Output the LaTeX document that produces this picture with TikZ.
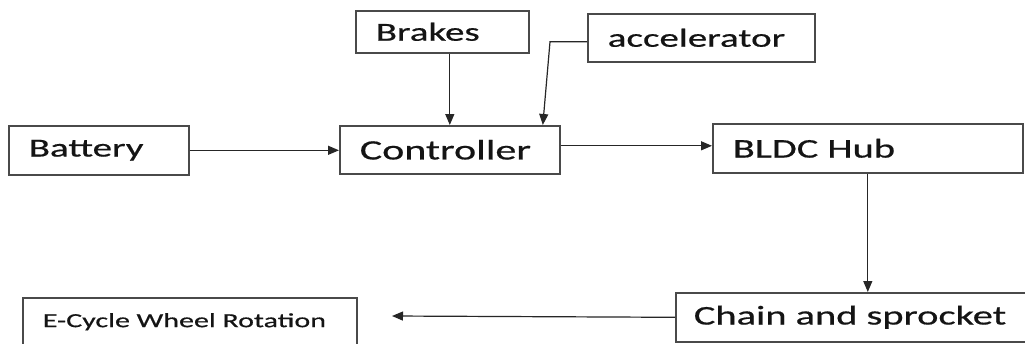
\documentclass[tikz,border=0pt]{standalone}
\usepackage{xcolor}
\usepackage{fontspec}
\setmainfont[FakeStretch=1.5,FakeBold=0.6]{Carlito}
\usepackage{tikz}
\usetikzlibrary{arrows.meta,positioning,calc}
\definecolor{ink}{HTML}{141414}
\definecolor{edge}{HTML}{4A4A4A}
\definecolor{wire}{HTML}{262626}

\begin{document}
\begin{tikzpicture}[x=1pt,y=-1pt,
    blk/.style={draw=edge, line width=1.6pt, fill=white, anchor=north west,
                inner xsep=20pt, inner ysep=0pt, align=left, text=ink,
                font=\fontsize{26}{30}\selectfont},
    arr/.style={draw=wire, line width=1.2pt, -{Triangle[length=11pt,width=9pt]}}]
      \fill[white] (0,0) rectangle (1025,343);
      \useasboundingbox (0,0) rectangle (1025,343);
      % top row
      \node[blk, text width=133pt, minimum height=42pt] (brakes) at (355,10) {Brakes};
      \node[blk, text width=187pt, minimum height=48pt] (accel) at (587,13) {accelerator};
      % middle row
      \node[blk, text width=140pt, minimum height=49pt] (battery) at (8,125) {Battery};
      \node[blk, text width=180pt, minimum height=48pt,
            font=\fontsize{28}{32}\selectfont] (ctrl) at (339,125) {Controller};
      \node[blk, text width=270pt, minimum height=49pt,
            font=\fontsize{27}{31}\selectfont] (hub) at (712,123) {BLDC Hub};
      % bottom row
      \node[blk, text width=327pt, minimum height=49pt, inner xsep=18pt,
            font=\fontsize{27}{31}\selectfont] (chain) at (675,292) {Chain and sprocket};
      \node[blk, text width=294pt, minimum height=48pt,
            font=\fontsize{20}{24}\selectfont] (wheel) at (22,297) {E-Cycle Wheel Rotation};
      \coordinate (wheelin) at (392,316);
      % connectors
      \draw[arr] (brakes.south -| ctrl.north) -- (ctrl.north);
      \draw[arr] ([yshift=-4pt]accel.west) -- ++(-37,0) -- ([xshift=93pt]ctrl.north);
      \draw[arr] (battery.east) -- (battery.east -| ctrl.west);
      \draw[arr] ([yshift=4pt]ctrl.east) -- ([yshift=4pt]ctrl.east -| hub.west);
      \draw[arr] (hub.south) -- (hub.south |- chain.north);
      \draw[arr] (chain.west) -- (wheelin);
    \end{tikzpicture}
\end{document}
